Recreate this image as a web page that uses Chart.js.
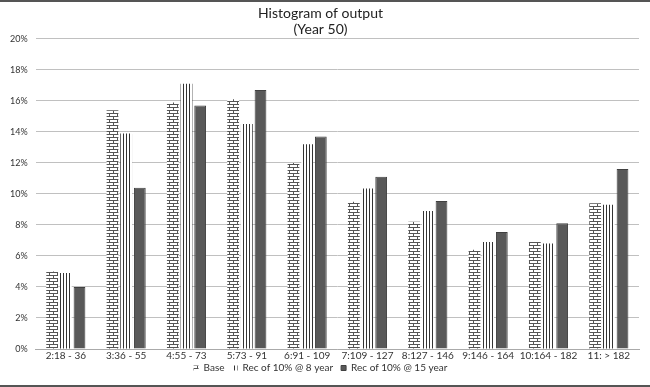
<!DOCTYPE html>
<html>
<head>
<meta charset="utf-8">
<script src="https://cdn.jsdelivr.net/npm/chart.js@4.4.1/dist/chart.umd.min.js"></script>
<style>
  html, body { margin: 0; padding: 0; background: #fff; }
  #wrap { width: 650px; height: 383px; border-top: 2px solid #555; border-bottom: 2px solid #555; position: relative; }
</style>
</head>
<body>
<div id="wrap"><canvas id="myChart" width="650" height="383"></canvas></div>
<script>
const categories = ['2:18 - 36', '3:36 - 55', '4:55 - 73', '5:73 - 91', '6:91 - 109',
  '7:109 - 127', '8:127 - 146', '9:146 - 164', '10:164 - 182', '11: > 182']
const baseValues = [5.0, 15.4, 15.9, 16.1, 12.0, 9.5, 8.2, 6.4, 6.9, 9.4]
const rec8Values = [4.9, 13.9, 17.1, 14.5, 13.2, 10.35, 8.9, 6.9, 6.8, 9.3]
const rec15Values = [4.0, 10.4, 15.7, 16.7, 13.7, 11.1, 9.55, 7.55, 8.1, 11.6]
const seriesNames = ['Base', 'Rec of 10% @ 8 year', 'Rec of 10% @ 15 year']
const titleLines = ['Histogram of output', '(Year 50)']

// brick pattern for Base
let makeBrick = () => {
    let c = document.createElement('canvas')
    c.width = 8; c.height = 6
    let g = c.getContext('2d')
    g.fillStyle = '#fff'
    g.fillRect(0, 0, 8, 6)
    g.fillStyle = '#555'
    g.fillRect(0, 0, 8, 1)
    g.fillRect(0, 3, 8, 1)
    g.fillRect(1, 0, 1, 3)
    g.fillRect(5, 3, 1, 3)
    return g.createPattern(c, 'repeat')
}

// vertical stripes for Rec 8
let makeStripes = () => {
    let c = document.createElement('canvas')
    c.width = 3; c.height = 4
    let g = c.getContext('2d')
    g.fillStyle = '#fff'
    g.fillRect(0, 0, 3, 4)
    g.fillStyle = '#333'
    g.fillRect(0, 0, 1, 4)
    return g.createPattern(c, 'repeat')
}

// legend sits tight under the axis labels: drop its top padding
const tightLegend = {
    id: 'tightLegend',
    beforeInit(chart) {
        const origFit = chart.legend.fit
        chart.legend.fit = function () {
            origFit.bind(chart.legend)()
            this.height -= 8
        }
    },
    afterLayout(chart) {
        chart.legend.top -= 8
        chart.legend.bottom -= 8
    }
}

const data = {
    labels: categories,
    datasets: [
      { label: seriesNames[0], data: baseValues, backgroundColor: makeBrick(), borderColor: '#666', borderWidth: 0 },
      { label: seriesNames[1], data: rec8Values, backgroundColor: makeStripes(), borderColor: '#333', borderWidth: 0 },
      { label: seriesNames[2], data: rec15Values, backgroundColor: '#595959', borderColor: '#404040', borderWidth: 1 }
    ]
};

const config = {
    type: 'bar',
    data: data,
    plugins: [tightLegend],
    options: {
        responsive: false,
        animation: false,
        layout: { padding: { left: 2, right: 11, top: 0, bottom: 2 } },
        datasets: { bar: { categoryPercentage: 0.68, barPercentage: 0.86 } },
        scales: {
            x: {
                grid: { display: false, drawTicks: false },
                border: { color: '#aaa' },
                ticks: { color: '#333', font: { family: 'Lato', size: 10 }, maxRotation: 0, autoSkip: false, padding: 1 }
            },
            y: {
                min: 0, max: 20,
                border: { display: false },
                grid: { color: '#c0c0c0', lineWidth: 1, drawTicks: false },
                ticks: {
                    stepSize: 2, padding: 8, color: '#333',
                    font: { family: 'Lato', size: 9 },
                    callback: (v) => v + '%'
                }
            }
        },
        plugins: {
            legend: {
                position: 'bottom',
                labels: { boxWidth: 5, boxHeight: 5, padding: 8, color: '#333', font: { family: 'Lato', size: 10 } }
            },
            title: {
                display: true,
                text: titleLines,
                color: '#222',
                font: { family: 'Lato', size: 14, weight: 'normal', lineHeight: 1.1 },
                padding: { top: 4, bottom: 2 }
            },
            tooltip: { enabled: false }
        }
    },
};

var myChart = new Chart(document.getElementById('myChart'), config);
</script>
</body>
</html>
